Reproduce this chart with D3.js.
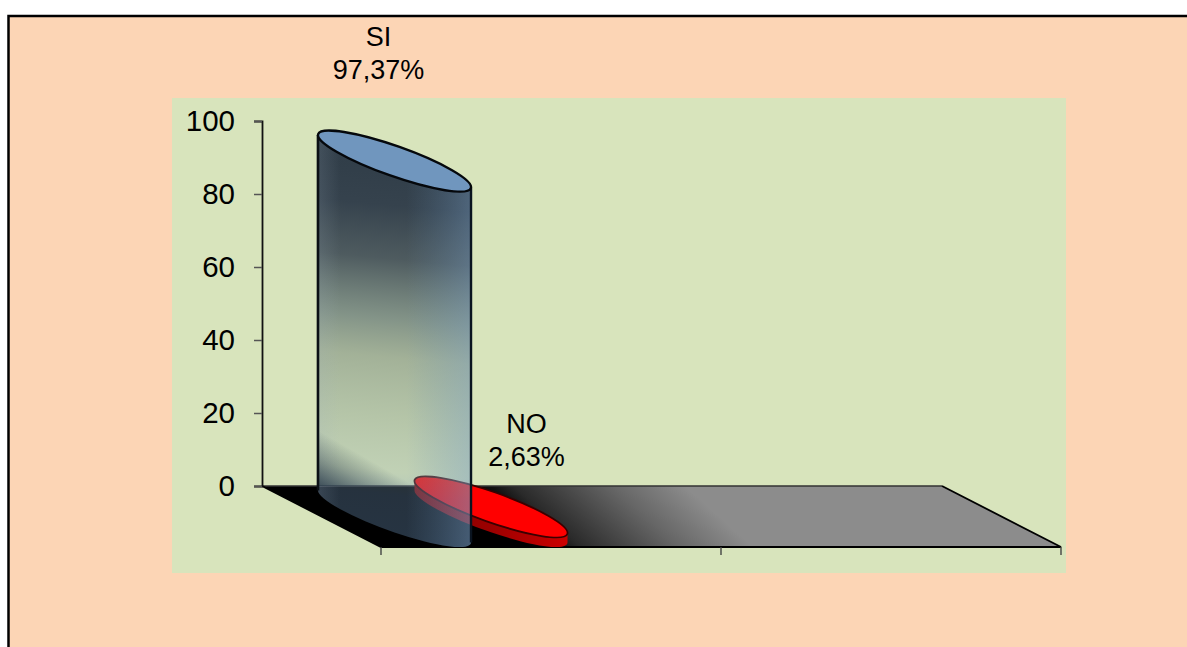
<!DOCTYPE html>
<html><head><meta charset="utf-8">
<script src="https://cdnjs.cloudflare.com/ajax/libs/d3/7.8.5/d3.min.js"></script>
<style>html,body{margin:0;padding:0;background:#fff;overflow:hidden}svg{display:block}text{font-family:"Liberation Sans",Arial,sans-serif;fill:#000}</style>
</head><body><svg id="c" width="1187" height="647"></svg>
<script>
const categories = ["SI", "NO"];
const values = [97.37, 2.63];
const yTicks = [0, 20, 40, 60, 80, 100];

const W = 1187, H = 647;
const svg = d3.select("#c");
const defs = svg.append("defs");

function grad(id, x1, y1, x2, y2, stops) {
  const g = defs.append("linearGradient").attr("id", id).attr("gradientUnits", "userSpaceOnUse")
    .attr("x1", x1).attr("y1", y1).attr("x2", x2).attr("y2", y2);
  stops.forEach(s => g.append("stop").attr("offset", s[0]).attr("stop-color", s[1]).attr("stop-opacity", s[2] === undefined ? 1 : s[2]));
}

// frame & plot background
svg.append("rect").attr("x", 8.5).attr("y", 16).attr("width", W + 20).attr("height", H + 20)
  .attr("fill", "#fcd5b5").attr("stroke", "#000").attr("stroke-width", 2.5);
svg.append("rect").attr("x", 172).attr("y", 98).attr("width", 894).attr("height", 475).attr("fill", "#d8e4bc");

// scales
const y = d3.scaleLinear().domain([0, 100]).range([486, 121]);
const xBand = d3.scaleBand().domain(categories).range([381, 1061]);
const xCentre = d3.scalePoint().domain(categories).range([394.5, 491]);
const depth = 61, shear = 119;
const y0 = y(0), midY = y0 + depth / 2;

// floor
grad("floor", 502, 522, 602.5, 411, [[0, "#000"], [0.13, "#111"], [0.23, "#2a2a2a"], [0.67, "#666"], [1, "#8c8c8c"]]);
const x0 = xBand.range()[0], x1 = xBand.range()[1];
svg.append("path")
  .attr("d", d3.line()([[x0 - shear, y0], [x1 - shear, y0], [x1, y0 + depth], [x0, y0 + depth]]) + "Z")
  .attr("fill", "url(#floor)");
svg.append("path").attr("d", d3.line()([[x0 - shear, y0], [x1 - shear, y0]])).attr("stroke", "#333").attr("stroke-width", 1.3).attr("fill", "none");
svg.append("path").attr("d", d3.line()([[x1 - shear, y0], [x1, y0 + depth], [x0, y0 + depth], [x0 - shear, y0]])).attr("stroke", "#000").attr("stroke-width", 1.8).attr("fill", "none");

// y axis
const yAxis = d3.axisLeft(y).tickValues(yTicks).tickSize(8).tickPadding(19).tickFormat(d3.format("d"));
const gy = svg.append("g").attr("transform", "translate(262,0)").call(yAxis);
gy.select(".domain").attr("stroke", "#111").attr("stroke-width", 1.8);
gy.selectAll("line").attr("stroke", "#555").attr("stroke-width", 1.5);
gy.selectAll("text").attr("font-size", 29.5).attr("font-family", '"Liberation Sans",Arial,sans-serif').attr("fill", "#000");

// x ticks at category boundaries
const xTickPos = categories.map(c => xBand(c)).concat([x1]);
svg.append("g").selectAll("line").data(xTickPos).join("line")
  .attr("x1", d => d).attr("x2", d => d).attr("y1", y0 + depth).attr("y2", y0 + depth + 8)
  .attr("stroke", "#444").attr("stroke-width", 1.4);

// cylinder geometry
const RX = 81, RY = 15, ROT = 19.5;
const rad = ROT * Math.PI / 180;
const hw = Math.sqrt(RX * RX * Math.cos(rad) ** 2 + RY * RY * Math.sin(rad) ** 2);
const dyExt = (RX * RX - RY * RY) * Math.sin(rad) * Math.cos(rad) / hw;
function bodyPath(cx, topY, botY) {
  return `M${cx - hw},${topY - dyExt} L${cx - hw},${botY - dyExt} A${RX},${RY} ${ROT} 0 0 ${cx + hw},${botY + dyExt} L${cx + hw},${topY + dyExt} A${RX},${RY} ${ROT} 0 1 ${cx - hw},${topY - dyExt}Z`;
}
function topEllipse(cx, cy) {
  return svg.append("ellipse").attr("cx", 0).attr("cy", 0).attr("rx", RX).attr("ry", RY)
    .attr("transform", `translate(${cx},${cy}) rotate(${ROT})`);
}

const hTop = v => midY - (y0 - y(v));

// NO cylinder (behind SI)
{
  const cx = xCentre("NO"), cy = hTop(values[1]);
  grad("noSide", cx - hw, 0, cx + hw, 0, [[0, "#7d0000"], [0.5, "#9c0000"], [1, "#cc0000"]]);
  svg.append("path").attr("d", bodyPath(cx, cy, midY)).attr("fill", "url(#noSide)");
  topEllipse(cx, cy).attr("fill", "#ff0000").attr("stroke", "#3a0000").attr("stroke-width", 1.8);
}

// SI cylinder
{
  const cx = xCentre("SI"), cy = hTop(values[0]);
  const d = bodyPath(cx, cy, midY);
  grad("siV", cx + 25, 170, cx - 10, 547, [
    [0, "#2e3b47", 0.98], [0.1, "#323f4b", 0.98], [0.24, "#3f4c55", 0.9], [0.40, "#56696c", 0.65], [0.5, "#66786f", 0.47],
    [0.66, "#778e85", 0.36], [0.8, "#8aa5a5", 0.3], [0.86, "#6f93b8", 0.34], [1, "#6a92ba", 0.36]]);
  grad("siR", cx + 12, 0, cx + hw, 0, [[0, "#6e96be", 0], [0.35, "#6e96be", 0.13], [1, "#7aa0c8", 0.38]]);
  grad("siL", cx - hw, 0, cx - hw + 22, 0, [[0, "#a0b0c0", 0.16], [1, "#a0b0c0", 0]]);
  grad("siC", cx - hw, y0, cx - hw + 24, y0 - 42, [[0, "#2a3a48", 0.85], [0.55, "#2a3a48", 0.35], [1, "#2a3a48", 0]]);
  svg.append("path").attr("d", d).attr("fill", "url(#siV)");
  svg.append("path").attr("d", d).attr("fill", "url(#siR)");
  svg.append("path").attr("d", d).attr("fill", "url(#siL)");
  svg.append("clipPath").attr("id", "aboveFloor").append("rect").attr("x", 300).attr("y", 100).attr("width", 200).attr("height", y0 - 100);
  svg.append("g").attr("clip-path", "url(#aboveFloor)").append("path").attr("d", d).attr("fill", "url(#siC)");
  // side outlines
  svg.append("path").attr("d", `M${cx - hw},${cy - dyExt} L${cx - hw},${midY - dyExt}`).attr("stroke", "#0a0f14").attr("stroke-width", 2.6);
  svg.append("path").attr("d", `M${cx + hw},${cy + dyExt} L${cx + hw},${midY + dyExt}`).attr("stroke", "#0a1420").attr("stroke-width", 2.4);
  topEllipse(cx, cy).attr("fill", "#7096be").attr("stroke", "#05080c").attr("stroke-width", 2.4);
}

// data labels
const labelOffset = [{ dx: -16, line2: 82 }, { dx: 35.5, line2: 41 }];
const labelSize = 27;
const fmt = v => String(v).replace(".", ",") + "%";
categories.forEach((c, i) => {
  const cx = xCentre(c) + labelOffset[i].dx, by = hTop(values[i]) - labelOffset[i].line2;
  const t = svg.append("text").attr("text-anchor", "middle").attr("font-size", labelSize);
  t.append("tspan").attr("x", cx).attr("y", by - labelSize * 1.22).text(c);
  t.append("tspan").attr("x", cx).attr("y", by).text(fmt(values[i]));
});
</script></body></html>
